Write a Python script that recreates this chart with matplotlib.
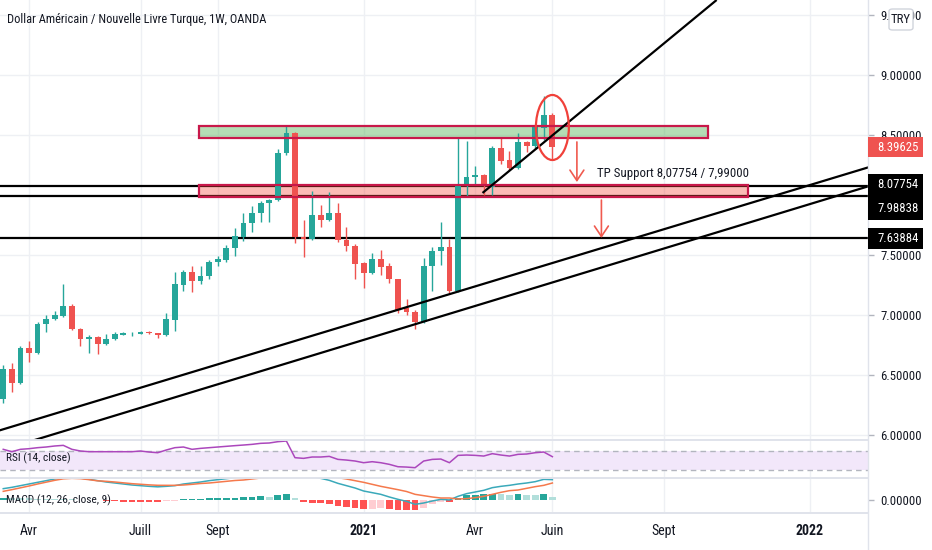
import matplotlib
matplotlib.use("Agg")
import matplotlib.pyplot as plt
import matplotlib.dates as mdates
from matplotlib import font_manager as fm
from matplotlib.patches import Rectangle, Ellipse, FancyBboxPatch, ArrowStyle
from matplotlib.lines import Line2D
import numpy as np
import pandas as pd

# ---------------- data ----------------
title = "Dollar Américain / Nouvelle Livre Turque, 1W, OANDA"
first_week = "2020-03-16"

opens = [6.300, 6.550, 6.433, 6.728, 6.681, 6.925, 6.964, 6.992, 7.075, 6.883,
         6.803, 6.819, 6.758, 6.803, 6.836, 6.846, 6.843, 6.858, 6.846, 6.833,
         6.958, 7.250, 7.361, 7.286, 7.325, 7.442, 7.458, 7.556, 7.647, 7.764,
         7.847, 7.936, 7.958, 8.347, 8.519, 7.653, 7.631, 7.833, 7.792, 7.853,
         7.625, 7.575, 7.430, 7.347, 7.464, 7.408, 7.297, 7.056, 7.028, 6.944,
         7.408, 7.533, 7.569, 7.203, 8.075, 8.147, 8.167, 8.069, 8.394, 8.292,
         8.228, 8.444, 8.408, 8.556, 8.667]
highs = [6.580, 6.600, 6.744, 6.783, 6.940, 7.000, 7.033, 7.258, 7.090, 6.890,
         6.833, 6.825, 6.842, 6.855, 6.856, 6.862, 6.864, 6.870, 6.850, 7.017,
         7.361, 7.375, 7.408, 7.408, 7.458, 7.490, 7.580, 7.728, 7.850, 7.910,
         7.950, 7.970, 8.381, 8.583, 8.525, 7.792, 8.036, 7.917, 8.028, 7.931,
         7.731, 7.590, 7.440, 7.514, 7.542, 7.430, 7.300, 7.133, 7.040, 7.472,
         7.569, 7.778, 7.631, 8.472, 8.453, 8.242, 8.175, 8.405, 8.472, 8.367,
         8.514, 8.453, 8.575, 8.825, 8.686]
lows = [6.270, 6.358, 6.425, 6.608, 6.675, 6.861, 6.955, 6.985, 6.875, 6.742,
        6.681, 6.675, 6.750, 6.795, 6.830, 6.826, 6.838, 6.840, 6.808, 6.825,
        6.869, 7.200, 7.194, 7.260, 7.300, 7.410, 7.440, 7.494, 7.619, 7.690,
        7.775, 7.775, 7.950, 8.330, 7.597, 7.486, 7.625, 7.736, 7.780, 7.611,
        7.536, 7.297, 7.228, 7.340, 7.333, 7.264, 7.014, 7.000, 6.881, 6.936,
        7.203, 7.417, 7.181, 7.190, 7.986, 8.083, 8.000, 8.000, 8.260, 8.208,
        8.220, 8.361, 8.380, 8.458, 8.292]
closes = [6.550, 6.433, 6.728, 6.681, 6.925, 6.964, 7.000, 7.075, 6.883, 6.798,
          6.819, 6.758, 6.803, 6.842, 6.848, 6.849, 6.856, 6.846, 6.833, 6.964,
          7.258, 7.361, 7.286, 7.325, 7.444, 7.464, 7.561, 7.658, 7.769, 7.853,
          7.936, 7.958, 8.347, 8.519, 7.653, 7.636, 7.833, 7.792, 7.853, 7.625,
          7.575, 7.423, 7.347, 7.464, 7.403, 7.297, 7.042, 7.028, 6.944, 7.408,
          7.533, 7.569, 7.203, 8.083, 8.147, 8.167, 8.075, 8.394, 8.283, 8.228,
          8.444, 8.408, 8.564, 8.667, 8.39625]

rsi = [73.5, 68.6, 73.5, 74.8, 76.9, 78.3, 80.4, 81.7, 73.5, 70.0,
       68.6, 68.6, 68.6, 68.6, 68.6, 68.6, 70.0, 67.9, 66.5, 72.1,
       76.9, 78.3, 73.5, 75.5, 76.9, 78.3, 79.7, 81.1, 82.4, 83.8,
       85.9, 86.6, 89.3, 90.7, 56.2, 54.8, 57.6, 57.6, 58.9, 52.7,
       51.3, 49.3, 45.8, 47.9, 45.8, 42.4, 37.5, 36.8, 35.5, 49.3,
       52.7, 53.4, 45.8, 61.0, 61.7, 61.0, 59.6, 64.5, 61.7, 59.6,
       63.1, 63.8, 66.5, 67.9, 58.3]

# MACD values in thousandths
macd_line = [35, 39, 44, 49, 54, 59, 64, 68, 69, 67,
             63, 59, 55, 52, 49, 46, 44, 42, 40.5, 42,
             44, 49, 52, 55, 59, 62, 65, 68, 71, 75,
             79, 78, 87, 95, 87, 75, 71, 66, 60, 51,
             44, 37, 28, 23, 18, 10, 3, -3, -12, -8,
             -2, 3, 1, 12, 20, 25, 30, 38, 42, 45,
             49, 52, 56, 63, 62]
signal_line = [27, 32, 37.5, 43, 49, 54.5, 60, 64.5, 66, 65,
               62, 58.5, 57, 55, 52.5, 50, 48.2, 46.4, 45.1, 45,
               45, 46, 48, 50.5, 52, 54.5, 57, 59.5, 61, 64,
               67, 69, 72, 77, 79, 79, 78, 75, 72, 68,
               64, 59, 54, 48, 42, 37, 32, 26.5, 18, 14,
               10, 7, 7, 4, 5, 8, 12, 18, 24, 29,
               31, 36, 41, 45, 52]
histogram = [8, 7, 6.5, 6, 5, 4.5, 4, 3.5, 3, 2,
             1, 0.5, -2, -3, -3.5, -4, -4.2, -4.4, -4.6, -3,
             -1, 3, 4, 4.5, 7, 7.5, 8, 8.5, 10, 11,
             12, 9, 15, 18, 8, -4, -7, -9, -12, -17,
             -20, -22, -26, -25, -24, -27, -29, -29.5, -30, -22,
             -12, -4, -6, 8, 15, 17, 18, 20, 18, 16,
             18, 16, 15, 18, 10]

price_ticks = [6.0, 6.5, 7.0, 7.5, 8.0, 8.5, 9.0, 9.5]
time_ticks = ["2020-04-06", "2020-07-06", "2020-09-07", "2021-01-04",
              "2021-04-05", "2021-06-07", "2021-09-06", "2022-01-03"]
time_labels = ["Avr", "Juill", "Sept", "2021", "Avr", "Juin", "Sept", "2022"]

level_prices = [8.07754, 7.98838, 7.63884]
last_price = 8.39625
green_zone = ("2020-08-23", "2021-10-12", 8.475, 8.575)
red_zone = ("2020-08-23", "2021-11-14", 7.983, 8.083)
support_text = "TP Support 8,07754 / 7,99000"

# ---------------- fonts ----------------
def pick_font():
    names = {f.name for f in fm.fontManager.ttflist}
    for n in ["Roboto Condensed", "Liberation Sans Narrow", "Open Sans Condensed",
              "Noto Sans Condensed", "DejaVu Sans Condensed"]:
        if n in names:
            return n, "normal"
    for f in fm.fontManager.ttflist:
        if f.name in ("DejaVu Sans", "Noto Sans", "Open Sans", "Roboto", "Liberation Sans") \
                and "condensed" in str(f.stretch):
            return f.name, str(f.stretch)
    return "DejaVu Sans", "normal"

FONT, STRETCH = pick_font()
plt.rcParams["font.family"] = [FONT, "DejaVu Sans"]
plt.rcParams["font.stretch"] = STRETCH

TEAL = "#26a69a"
RED = "#ef5350"
TXT = "#131722"
GRID = "#eef0f4"
SEP = "#e0e3eb"
CRIMSON = "#c8184a"
FS_AX = 9.2     # price axis labels
FS_TIME = 10
FS_TITLE = 8.9
FS_IND = 8.2

W, H = 932, 550
PXW = 8.58  # pixels per week
fig = plt.figure(figsize=(W / 100, H / 100), dpi=100)
fig.patch.set_facecolor("white")


def fax(l, t, r, b):
    return fig.add_axes([l / W, 1 - b / H, (r - l) / W, (b - t) / H])


ax = fax(0, 0, 868, 440)
axr = fax(0, 440, 868, 477.5)
axm = fax(0, 478, 868, 513)

x_left = mdates.date2num(pd.Timestamp("2020-04-06")) - 29 / PXW * 7
x_right = x_left + 868 / PXW * 7
D = lambda s: mdates.date2num(pd.Timestamp(s))

dates = pd.date_range(first_week, periods=len(opens), freq="7D")
xd = mdates.date2num(dates)
tick_x = [D(t) for t in time_ticks]

for a in (ax, axr, axm):
    a.set_xlim(x_left, x_right)
    for s in a.spines.values():
        s.set_visible(False)
    a.set_facecolor("white")
    for t in tick_x:
        a.axvline(t, color=GRID, lw=1, zorder=0)
    a.tick_params(axis="x", length=0)

# ---------------- main pane ----------------
ax.set_ylim(9 - 365 / 120, 9 + 75 / 120)
ax.yaxis.tick_right()
ax.set_yticks(price_ticks)
# the 8.00000 label sits fully under the level labels, so it is left blank
ax.set_yticklabels(["" if v == 8.0 else f"{v:.5f}" for v in price_ticks])
ax.tick_params(axis="y", length=4, width=1, color="#b2b5be", pad=5,
               labelsize=FS_AX, labelcolor=TXT)
ax.set_xticks([])
for v in price_ticks:
    ax.axhline(v, color=GRID, lw=1, zorder=0)

o = np.array(opens); c = np.array(closes); hi = np.array(highs); lo = np.array(lows)
col = np.where(c >= o, TEAL, RED)
ax.vlines(xd, lo, hi, colors=col, lw=1, zorder=3)
ax.bar(xd, np.maximum(np.abs(c - o), 0.008), bottom=np.minimum(o, c), width=4.7,
       color=col, lw=0, zorder=3.5)

for lv in level_prices:
    ax.axhline(lv, color="black", lw=1.6, zorder=1.5)

for (d0, d1, p0, p1), fc in ((green_zone, (76/255, 175/255, 80/255, 0.42)),
                             (red_zone, (244/255, 67/255, 54/255, 0.36))):
    ax.add_patch(Rectangle((D(d0), p0), D(d1) - D(d0), p1 - p0, fc=fc,
                           ec="none", zorder=2))
    ax.add_patch(Rectangle((D(d0), p0), D(d1) - D(d0), p1 - p0, fill=False,
                           ec=CRIMSON, lw=1.6, zorder=4))

# trend lines
ax.axline((D("2020-06-03"), 6.292), (D("2022-02-18"), 8.225), color="black", lw=1.6, zorder=4)
ax.axline((D("2020-07-27"), 6.292), (D("2022-02-18"), 8.067), color="black", lw=1.6, zorder=4)
ax.plot([D("2021-04-11"), D("2021-10-19")], [8.017, 9.625], color="black", lw=1.6,
        zorder=4, solid_capstyle="butt")

ax.add_patch(Ellipse((D("2021-06-07"), 8.5625), 26.9, 0.542, fill=False,
                     ec="#f0413a", lw=1.6, zorder=5))
for d, p0, p1 in (("2021-06-27", 8.442, 8.108), ("2021-07-17", 7.958, 7.642)):
    ax.annotate("", xy=(D(d), p1), xytext=(D(d), p0),
                arrowprops=dict(arrowstyle=ArrowStyle("->", head_length=0.75, head_width=0.5),
                                color="#f05a4f", lw=1.2, mutation_scale=10,
                                shrinkA=0, shrinkB=0), zorder=5)
ax.text(D("2021-07-13"), 8.183, support_text, fontsize=9.3, color=TXT,
        ha="left", va="center", zorder=6)

# ---------------- RSI pane ----------------
axr.set_ylim(15.2, 92.8)
axr.set_yticks([])
axr.set_xticks([])
axr.axhspan(30, 70, color="#f2e7fa", zorder=0.5, lw=0)
for v in (30, 70):
    axr.axhline(v, color="#b2b5be", lw=1, ls=(0, (4, 3)), zorder=1)
axr.plot(xd, rsi, color="#ab47bc", lw=1.1, zorder=3)
axr.text(6 / 868, 0.5, "RSI (14, close)", transform=axr.transAxes, fontsize=FS_IND,
         color=TXT, ha="left", va="center", zorder=5)

# ---------------- MACD pane ----------------
axm.set_ylim(-38, 67)
axm.yaxis.tick_right()
axm.set_yticks([0])
axm.set_yticklabels(["0.00000"])
axm.tick_params(axis="y", length=4, width=1, color="#b2b5be", pad=5,
                labelsize=FS_AX, labelcolor=TXT)
hv = np.array(histogram)
prev = np.concatenate([[hv[0] - 1], hv[:-1]])
hcol = np.where(hv >= 0, np.where(hv >= prev, "#26a69a", "#b2dfdb"),
                np.where(hv <= prev, "#ff5252", "#ffcdd2"))
axm.bar(xd, hv, width=5.5, color=hcol, lw=0, zorder=2)
axm.plot(xd, macd_line, color="#3aa9ba", lw=1.1, zorder=3)
axm.plot(xd, signal_line, color="#f5794c", lw=1.1, zorder=3)
axm.text(6 / 868, 0.36, "MACD (12, 26, close, 9)", transform=axm.transAxes, fontsize=FS_IND,
         color=TXT, ha="left", va="center", zorder=5)
axm.set_xticks(tick_x)
axm.set_xticklabels(time_labels)
axm.tick_params(axis="x", length=0, pad=8, labelsize=FS_TIME, labelcolor=TXT)
for lab in axm.get_xticklabels():
    if lab.get_text().isdigit():
        lab.set_fontweight("bold")

# ---------------- separators / labels ----------------
for yy in (440, 477.7, 513):
    fig.add_artist(Line2D([0, 868 / W], [1 - yy / H] * 2, transform=fig.transFigure,
                          color=SEP, lw=1.4))
fig.add_artist(Line2D([868 / W] * 2, [0, 1], transform=fig.transFigure, color=SEP, lw=1.0))

fig.text(7 / W, 1 - 19 / H, title, fontsize=FS_TITLE, color=TXT, ha="left", va="center")


def price_box(price, text, fc, h_px=21, dy_px=0):
    yd = ax.transData.transform((x_left, price))[1] - dy_px
    fig.add_artist(Rectangle((868 / W, (yd - h_px / 2) / H), 55 / W, h_px / H,
                             transform=fig.transFigure, fc=fc, ec="none", zorder=10))
    fig.text(877 / W, yd / H, text, color="white", fontsize=FS_AX, ha="left",
             va="center", zorder=11)


price_box(last_price, f"{last_price:.5f}", RED, h_px=20)
price_box(level_prices[0], f"{level_prices[0]:.5f}", "black", h_px=22, dy_px=-1)
price_box(level_prices[1], f"{level_prices[1]:.5f}", "black", h_px=24, dy_px=12)
price_box(level_prices[2], f"{level_prices[2]:.5f}", "black", h_px=21)

fig.add_artist(FancyBboxPatch((889 / W, 1 - 30 / H), 24 / W, 21 / H,
                              boxstyle="round,pad=0,rounding_size=0.004",
                              transform=fig.transFigure, fc="white", ec="#d1d4dc",
                              lw=1, zorder=10))
fig.text(901 / W, 1 - 19.5 / H, "TRY", fontsize=FS_AX, color=TXT, ha="center",
         va="center", zorder=11)

fig.savefig("out.png", dpi=100, facecolor="white")
